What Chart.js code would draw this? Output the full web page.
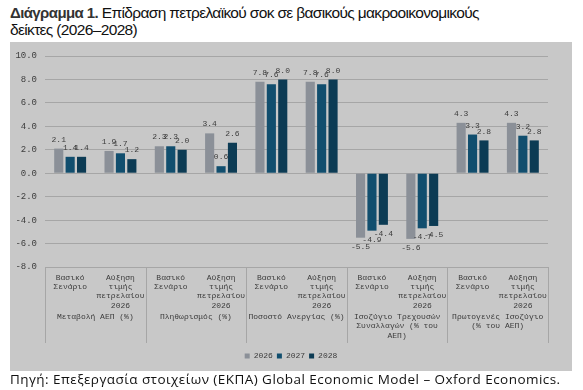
<!DOCTYPE html>
<html><head><meta charset="utf-8">
<script src="https://cdn.jsdelivr.net/npm/chart.js@4"></script>
<style>
html,body{margin:0;padding:0;background:#fff;width:583px;height:390px;overflow:hidden;}
#title{position:absolute;left:10px;top:5px;width:500px;font-family:"Liberation Sans",Arial,sans-serif;font-size:15.5px;line-height:16.5px;color:#111;letter-spacing:-0.65px;}
#title b{color:#333;letter-spacing:-0.6px;font-size:15px;}
#panel{position:absolute;left:10px;top:42px;width:562px;height:329px;background:#c8c8c8;}
#src{position:absolute;left:10px;top:372px;font-family:"Open Sans",sans-serif;font-size:13.5px;line-height:15px;color:#111;white-space:nowrap;letter-spacing:0.45px;}
</style></head>
<body>
<div id="title"><b>Διάγραμμα 1.</b> Επίδραση πετρελαϊκού σοκ σε βασικούς μακροοικονομικούς δείκτες (2026–2028)</div>
<div id="panel"><canvas id="c" width="562" height="329"></canvas></div>
<div id="src">Πηγή: Επεξεργασία στοιχείων (ΕΚΠΑ) Global Economic Model – Oxford Economics.</div>
<script>
const subCategories = [
  ["Βασικό","Σενάριο"],["Αύξηση","τιμής","πετρελαίου","2026"],
  ["Βασικό","Σενάριο"],["Αύξηση","τιμής","πετρελαίου","2026"],
  ["Βασικό","Σενάριο"],["Αύξηση","τιμής","πετρελαίου","2026"],
  ["Βασικό","Σενάριο"],["Αύξηση","τιμής","πετρελαίου","2026"],
  ["Βασικό","Σενάριο"],["Αύξηση","τιμής","πετρελαίου","2026"]
];
const groups = [
  ["Μεταβολή ΑΕΠ (%)"],
  ["Πληθωρισμός (%)"],
  ["Ποσοστό Ανεργίας (%)"],
  ["Ισοζύγιο Τρεχουσών","Συναλλαγών (% του","ΑΕΠ)"],
  ["Πρωτογενές Ισοζύγιο","(% του ΑΕΠ)"]
];
const seriesNames = ["2026","2027","2028"];
const values2026 = [2.1, 1.9, 2.3, 3.4, 7.8, 7.8, -5.5, -5.6, 4.3, 4.3];
const values2027 = [1.4, 1.7, 2.3, 0.6, 7.6, 7.6, -4.9, -4.7, 3.3, 3.2];
const values2028 = [1.4, 1.2, 2.0, 2.6, 8.0, 8.0, -4.4, -4.5, 2.8, 2.8];
const yTicks = [-8, -6, -4, -2, 0, 2, 4, 6, 8, 10];

const colors = ["#8b9098", "#114e6e", "#0c3b54"];
const textColor = "#3c3c3c";
const gridColor = "#a6a6a6";
const mono = "'Liberation Mono', 'Courier New', monospace";

const extras = {
  id: 'extras',
  afterDatasetsDraw(chart) {
    const ctx = chart.ctx;
    ctx.save();
    ctx.font = "8px " + mono;
    ctx.fillStyle = textColor;
    ctx.textAlign = "center";
    ctx.textBaseline = "middle";
    chart.data.datasets.forEach((ds, di) => {
      const meta = chart.getDatasetMeta(di);
      meta.data.forEach((el, i) => {
        const v = ds.data[i];
        const y = v >= 0 ? el.y - 9 : el.y + 9;
        ctx.fillText(v.toFixed(1), el.x, y);
      });
    });
    ctx.restore();
  },
  afterDraw(chart) {
    const ctx = chart.ctx;
    const xs = chart.scales.x;
    const area = chart.chartArea;
    ctx.save();
    ctx.strokeStyle = gridColor;
    ctx.lineWidth = 1;
    const bottomY = 301;
    for (let g = 0; g <= groups.length; g++) {
      let x;
      if (g === 0) x = xs.left;
      else if (g === groups.length) x = xs.right;
      else x = (xs.getPixelForValue(2 * g - 1) + xs.getPixelForValue(2 * g)) / 2;
      x = Math.round(x) + 0.5;
      ctx.beginPath();
      ctx.moveTo(x, area.bottom);
      ctx.lineTo(x, bottomY);
      ctx.stroke();
    }
    ctx.font = "8px " + mono;
    ctx.fillStyle = textColor;
    ctx.textAlign = "center";
    ctx.textBaseline = "middle";
    groups.forEach((lines, g) => {
      const cx = (xs.getPixelForValue(2 * g) + xs.getPixelForValue(2 * g + 1)) / 2;
      lines.forEach((t, li) => ctx.fillText(t, cx, 275 + li * 9.3));
    });
    ctx.restore();
  }
};

new Chart(document.getElementById('c'), {
  type: 'bar',
  data: {
    labels: subCategories,
    datasets: [
      { label: seriesNames[0], data: values2026, backgroundColor: colors[0] },
      { label: seriesNames[1], data: values2027, backgroundColor: colors[1] },
      { label: seriesNames[2], data: values2028, backgroundColor: colors[2] }
    ]
  },
  options: {
    responsive: false,
    animation: false,
    devicePixelRatio: 1,
    layout: { padding: { top: 14, right: 0, left: 0, bottom: 1 } },
    datasets: { bar: { categoryPercentage: 0.68, barPercentage: 0.8 } },
    plugins: {
      tooltip: { enabled: false },
      legend: {
        position: 'bottom',
        labels: {
          font: { family: mono, size: 8 },
          color: textColor,
          boxWidth: 5, boxHeight: 5,
          padding: 4
        }
      }
    },
    scales: {
      x: {
        grid: { display: false, drawTicks: false },
        border: { display: false },
        ticks: {
          font: { family: mono, size: 8, lineHeight: 1.16 },
          color: textColor,
          maxRotation: 0, minRotation: 0, autoSkip: false,
          padding: 6
        },
        afterFit(s) { s.height = 81; }
      },
      y: {
        min: -8, max: 10,
        afterBuildTicks(s) { s.ticks = yTicks.map(v => ({ value: v })); },
        grid: { color: gridColor, drawTicks: false },
        border: { display: false },
        ticks: {
          font: { family: mono, size: 9 },
          color: textColor,
          padding: 8,
          callback: v => Number(v).toFixed(1)
        },
        afterFit(s) { s.width = 35; }
      },
      yRight: {
        type: 'linear',
        position: 'right',
        min: -8, max: 10,
        grid: { display: false, drawTicks: false },
        border: { display: false },
        ticks: { display: false },
        afterFit(s) { s.width = 24; }
      }
    }
  },
  plugins: [extras]
});
</script>
</body></html>
